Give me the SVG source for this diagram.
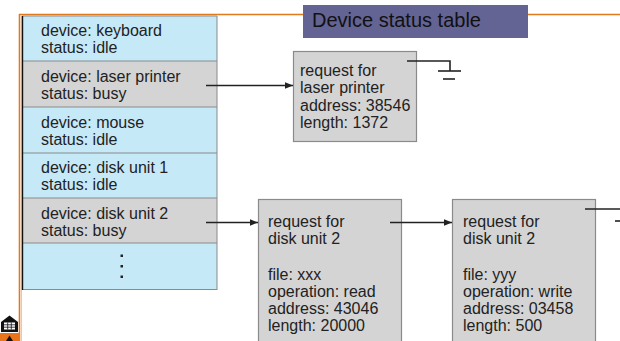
<svg xmlns="http://www.w3.org/2000/svg" width="620" height="341" viewBox="0 0 620 341">
  <defs>
    <style>
      .t { font-family: "Liberation Sans", Arial, sans-serif; font-size: 16px; fill: #222; }
      .title { font-family: "Liberation Sans", Arial, sans-serif; font-size: 20px; fill: #111; }
      .blue { fill: #c6e9f8; }
      .grey { fill: #d4d4d4; }
      .sep { stroke: #8a8a8a; stroke-width: 1; }
      .box { fill: #d4d4d4; stroke: #8a8a8a; stroke-width: 1.2; }
      .wire { stroke: #222; stroke-width: 1.6; fill: none; }
    </style>
    <marker id="arrow" viewBox="0 0 8 8" refX="8" refY="4" markerWidth="8" markerHeight="8" markerUnits="userSpaceOnUse" orient="auto">
      <path d="M0,0.8 L8,4 L0,7.2 Z" fill="#222"/>
    </marker>
  </defs>

  <rect width="620" height="341" fill="#fff"/>

  <!-- slide frame -->
  <g id="frame">
    <line x1="19" y1="14.5" x2="620" y2="14.5" stroke="#e07a1f" stroke-width="1.6"/>
    <line x1="19.5" y1="14" x2="19.5" y2="341" stroke="#e07a1f" stroke-width="1.6"/>
    <line x1="21.5" y1="16" x2="21.5" y2="341" stroke="#f2b680" stroke-width="0.8"/>
  </g>

  <!-- title -->
  <g id="title">
    <rect x="303" y="5" width="225" height="33" fill="#636394"/>
    <text class="title" x="312" y="27">Device status table</text>
  </g>

  <!-- device status table -->
  <g id="table">
    <g id="row-keyboard">
      <rect class="blue" x="22" y="16" width="195" height="45"/>
      <text class="t" x="41" y="36">device: keyboard</text>
      <text class="t" x="41" y="53">status: idle</text>
    </g>
    <g id="row-laser">
      <rect class="grey" x="22" y="61" width="195" height="46"/>
      <text class="t" x="41" y="82">device: laser printer</text>
      <text class="t" x="41" y="99">status: busy</text>
    </g>
    <g id="row-mouse">
      <rect class="blue" x="22" y="107" width="195" height="46"/>
      <text class="t" x="41" y="128">device: mouse</text>
      <text class="t" x="41" y="145">status: idle</text>
    </g>
    <g id="row-disk1">
      <rect class="blue" x="22" y="153" width="195" height="45"/>
      <text class="t" x="41" y="173">device: disk unit 1</text>
      <text class="t" x="41" y="190">status: idle</text>
    </g>
    <g id="row-disk2">
      <rect class="grey" x="22" y="198" width="195" height="45"/>
      <text class="t" x="41" y="219">device: disk unit 2</text>
      <text class="t" x="41" y="236">status: busy</text>
    </g>
    <g id="row-more">
      <rect class="blue" x="22" y="243" width="195" height="46"/>
      <rect x="120.5" y="254.5" width="2.5" height="2.5" fill="#222"/>
      <rect x="120.5" y="265" width="2.5" height="2.5" fill="#222"/>
      <rect x="120.5" y="275.5" width="2.5" height="2.5" fill="#222"/>
    </g>
    <g id="table-lines">
      <line class="sep" x1="22" y1="61" x2="217" y2="61"/>
      <line class="sep" x1="22" y1="107" x2="217" y2="107"/>
      <line class="sep" x1="22" y1="153" x2="217" y2="153"/>
      <line class="sep" x1="22" y1="198" x2="217" y2="198"/>
      <line class="sep" x1="22" y1="243" x2="217" y2="243"/>
      <line class="sep" x1="22" y1="289.5" x2="217" y2="289.5"/>
      <line class="sep" x1="217" y1="16" x2="217" y2="290"/>
      <line class="sep" x1="22" y1="16" x2="217" y2="16"/>
      <line x1="22.5" y1="16" x2="22.5" y2="290" stroke="#111" stroke-width="1.4"/>
    </g>
  </g>

  <!-- request nodes -->
  <g id="req-laser">
    <rect class="box" x="293.5" y="51.5" width="123" height="90"/>
    <text class="t" x="300" y="76">request for</text>
    <text class="t" x="300" y="93">laser printer</text>
    <text class="t" x="300" y="111">address: 38546</text>
    <text class="t" x="300" y="128">length: 1372</text>
  </g>

  <g id="req-disk-a">
    <rect class="box" x="258.5" y="199.5" width="143" height="150"/>
    <text class="t" x="268" y="227">request for</text>
    <text class="t" x="268" y="244">disk unit 2</text>
    <text class="t" x="268" y="280">file: xxx</text>
    <text class="t" x="268" y="297">operation: read</text>
    <text class="t" x="268" y="314">address: 43046</text>
    <text class="t" x="268" y="331">length: 20000</text>
  </g>

  <g id="req-disk-b">
    <rect class="box" x="452.5" y="199.5" width="143" height="150"/>
    <text class="t" x="463" y="227">request for</text>
    <text class="t" x="463" y="244">disk unit 2</text>
    <text class="t" x="463" y="280">file: yyy</text>
    <text class="t" x="463" y="297">operation: write</text>
    <text class="t" x="463" y="314">address: 03458</text>
    <text class="t" x="463" y="331">length: 500</text>
  </g>

  <!-- connectors -->
  <g id="connectors">
    <line class="wire" x1="206" y1="85.5" x2="293" y2="85.5" marker-end="url(#arrow)"/>
    <line class="wire" x1="206" y1="222.5" x2="258" y2="222.5" marker-end="url(#arrow)"/>
    <line class="wire" x1="390" y1="222.5" x2="452" y2="222.5" marker-end="url(#arrow)"/>
    <!-- null terminator (ground) after the laser printer request -->
    <polyline class="wire" points="407,61 450,61 450,71"/>
    <line class="wire" x1="438" y1="71" x2="461" y2="71"/>
    <line class="wire" x1="443" y1="79" x2="455" y2="79"/>
    <!-- link continuing past the second disk request -->
    <line class="wire" x1="585" y1="209" x2="620" y2="209"/>
    <line class="wire" x1="615" y1="221" x2="620" y2="221"/>
  </g>

  <!-- corner logo -->
  <g id="logo">
    <rect x="0" y="333" width="19" height="8" fill="#e8741c"/>
    <path d="M6,341 L9.5,335.5 L13,341 Z" fill="#111"/>
    <path d="M1,332 L1,322 L9.5,315.5 L18,322 L18,332 Z" fill="#111"/>
    <rect x="4" y="322.5" width="11" height="7" fill="#fff"/>
    <line x1="4" y1="324.8" x2="15" y2="324.8" stroke="#111" stroke-width="0.8"/>
    <line x1="4" y1="327.2" x2="15" y2="327.2" stroke="#111" stroke-width="0.8"/>
    <line x1="7.7" y1="322.5" x2="7.7" y2="329.5" stroke="#111" stroke-width="0.8"/>
    <line x1="11.3" y1="322.5" x2="11.3" y2="329.5" stroke="#111" stroke-width="0.8"/>
  </g>
</svg>
